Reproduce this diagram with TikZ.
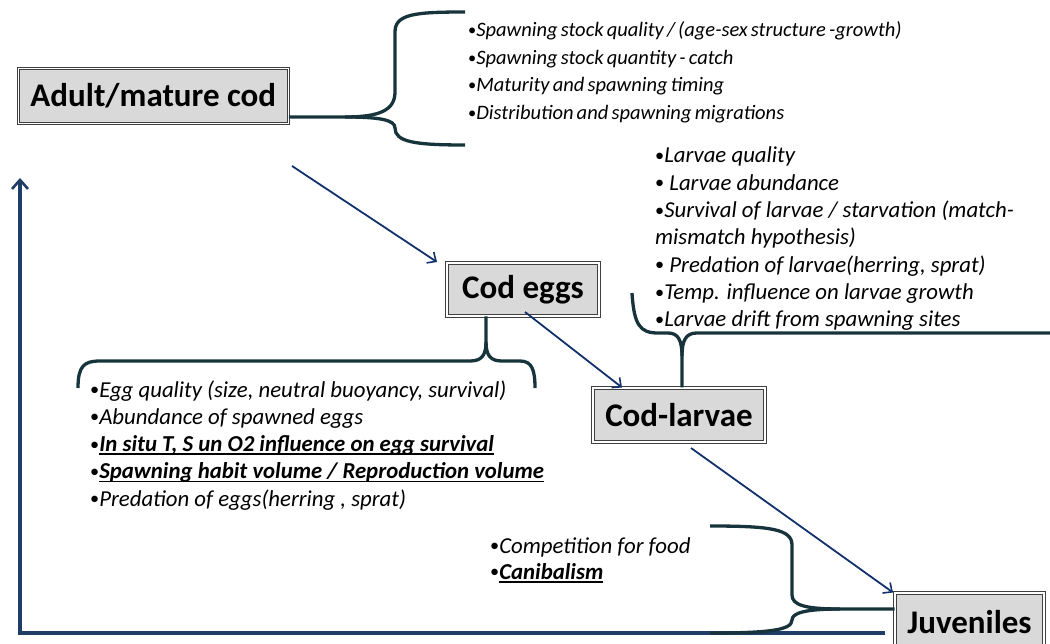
\documentclass[tikz,border=0pt]{standalone}
\usepackage{fontspec}
\setmainfont{Carlito}
\usetikzlibrary{arrows.meta}
\definecolor{boxgray}{HTML}{D9D9D9}
\definecolor{arrowblue}{HTML}{12306B}
\definecolor{cycleblue}{HTML}{1F3D66}
\definecolor{bracecol}{HTML}{17343C}
\definecolor{boxline}{HTML}{404040}
\newcommand\labelfont{\fontsize{33}{38}\selectfont\bfseries}
\newcommand\listfont{\fontsize{22.8}{27.3}\selectfont\itshape}
\newcommand\smalllistfont{\fontsize{20.5}{27.5}\selectfont\itshape\spaceskip=3.2pt plus 1pt}
\newcommand\bul{\raisebox{0.06em}{\scalebox{0.8}{\normalfont •}}}
\newcommand\ulx[1]{\setbox0=\hbox{#1}\rlap{\rule[-3.5pt]{\wd0}{1.7pt}}\box0}
\tikzset{
  box/.style={draw=boxline, double=white, double distance=1.1pt, line width=1pt,
    fill=boxgray, font=\labelfont, inner sep=0pt},
  listtext/.style={anchor=base west, align=left, font=\listfont, inner sep=0pt},
  flow/.style={draw=arrowblue, line width=1.8pt, -{Straight Barb[length=7pt,width=13pt,line width=1.6pt]}},
  cycle/.style={draw=cycleblue, line width=3.2pt, -{Straight Barb[length=9pt,width=16pt,line width=2.6pt]}},
  brace/.style={draw=bracecol, line width=3.3pt, line cap=butt}
}
\begin{document}
\begin{tikzpicture}[x=1pt,y=-1pt]
\useasboundingbox (0,0) rectangle (1050,644);

% boxes
\node[box, minimum width=270pt, minimum height=55pt] (adult) at (153.3,95.8) {Adult/mature cod};
\node[box, minimum width=152pt, minimum height=53pt] (eggs) at (523,289.5) {Cod eggs};
\node[box, minimum width=172pt, minimum height=54pt] (larvae) at (679,415) {Cod-larvae};
\node[box, minimum width=149pt, minimum height=58pt] (juv) at (969.5,622) {Juveniles};

% lists (positioned at the baseline of their last line)
\node[listtext, font=\smalllistfont] (adultlist) at (468,119.5) {\bul Spawning stock quality / (age-sex structure -growth)\\
\bul Spawning stock quantity - catch\\
\bul Maturity and spawning timing\\
\bul Distribution and spawning migrations};

\node[listtext] (larvlist) at (655,326.8) {\bul Larvae quality\\
\bul\ Larvae abundance\\
\bul Survival of larvae / starvation (match-\\
mismatch hypothesis)\\
\bul\ Predation of larvae(herring, sprat)\\
\bul Temp. influence on larvae growth\\
\bul Larvae drift from spawning sites};

\node[listtext] (egglist) at (90,506.2) {\bul Egg quality (size, neutral buoyancy, survival)\\
\bul Abundance of spawned eggs\\
\bul\ulx{\bfseries In situ T, S un O2 influence on egg survival}\\
\bul\ulx{\bfseries Spawning habit volume / Reproduction volume}\\
\bul Predation of eggs(herring , sprat)};

\node[listtext] (juvlist) at (490,579) {\bul Competition for food\\[-1.3pt]
\bul\ulx{\bfseries Canibalism}};

% connector end points
\coordinate (a1) at (292,166);
\coordinate (a2) at (437,262);
\coordinate (e1) at (525,312);
\coordinate (l1) at (691,448);
\coordinate (c0) at (885,633);
\coordinate (c1) at (20,633);
\coordinate (c2) at (20,178);

\draw[flow] (a1) -- (a2);
\draw[flow] (e1) -- (larvae.north west -| 622,0);
\draw[flow] (l1) -- (juv.north west -| 893,0);
\draw[cycle] (c0) -- (c1) -- (c2);

% braces
\draw[brace] (465,12) .. controls (415,12) and (395,14) .. (395,32) -- (395,92)
  .. controls (395,110) and (380,117) .. (345,117) -- (adult.east |- 0,117) ;
\draw[brace] (345,117) .. controls (380,117) and (395,120) .. (395,128)
  .. controls (395,142) and (415,145) .. (465,145);

\draw[brace] (78,388) .. controls (78,366) and (84,361) .. (100,361) -- (470,361)
  .. controls (481,361) and (486,356) .. (486,342) -- (eggs.south -| 486,0);
\draw[brace] (486,342) .. controls (486,356) and (491,361) .. (502,361) -- (520,361)
  .. controls (532,361) and (535,370) .. (535,388);

\draw[brace] (632,293) .. controls (634,325) and (640,333) .. (658,333) -- (668,333)
  .. controls (678,333) and (682,340) .. (682,356) -- (larvae.north -| 682,0);
\draw[brace] (682,356) .. controls (682,340) and (686,333) .. (697,333) -- (1050,333);

\draw[brace] (710,526) .. controls (770,526) and (792,529) .. (792,545) -- (792,595)
  .. controls (792,605) and (805,609) .. (840,609) -- (juv.west |- 0,609);
\draw[brace] (840,609) .. controls (805,609) and (792,613) .. (792,620)
  .. controls (792,630) and (770,633) .. (710,633);
\end{tikzpicture}
\end{document}
